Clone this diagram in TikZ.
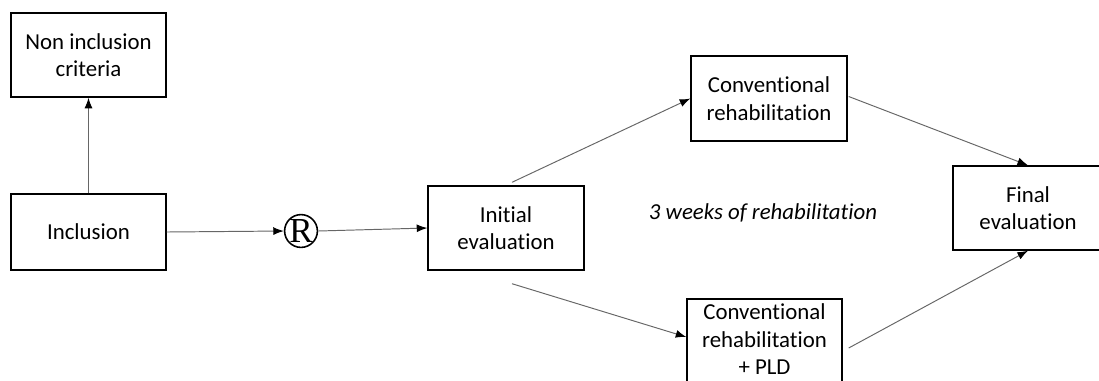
\documentclass[tikz,border=0pt]{standalone}
\usepackage{fontspec}
\setmainfont{Carlito}[Ligatures=NoCommon]
\newfontfamily\serifR{Liberation Serif}
\usepackage{tikz}
\usetikzlibrary{arrows.meta}

\begin{document}
\begin{tikzpicture}[x=0.02cm, y=-0.02cm,
    box/.style={draw, line width=0.8pt, align=center, font=\fontsize{13}{15.6}\selectfont, inner sep=0pt},
    arr/.style={-{Latex[length=6pt,width=4.5pt,color=black]}, draw=black!60, line width=0.55pt}]
    % Frame of the picture
    \clip (0,0) rectangle (1099,380);

    % Boxes
    \node[box, minimum width=155*0.02cm, minimum height=84*0.02cm] (noninc) at (88.5,55) {Non inclusion\\criteria};
    \node[box, minimum width=155*0.02cm, minimum height=76*0.02cm] (inclusion) at (88.5,232) {Inclusion};
    \node[draw, circle, line width=0.9pt, inner sep=0pt, minimum size=31*0.02cm, font=\serifR\fontsize{20}{20}\selectfont] (rand) at (301,231) {R};
    \node[box, minimum width=156*0.02cm, minimum height=84*0.02cm] (initial) at (506,228) {Initial\\evaluation};
    \node[box, minimum width=156*0.02cm, minimum height=85*0.02cm] (conv) at (769,98.5) {Conventional\\rehabilitation};
    \node[box, minimum width=155*0.02cm, minimum height=86*0.02cm, text depth=3.2pt] (convpld) at (764.5,342) {Conventional\\rehabilitation\\+ PLD};
    \node[box, minimum width=150*0.02cm, minimum height=84*0.02cm] (final) at (1028,208) {Final\\evaluation};

    % Label in the middle
    \node[font=\fontsize{13}{15.6}\selectfont\itshape] (weeks) at (763,213) {3 weeks of rehabilitation};

    % Arrows
    \draw[arr] (inclusion.north) -- (noninc.south);
    \draw[arr] (inclusion.east) -- (rand.west);
    \draw[arr] (rand.east) -- (initial.west);
    \draw[arr] ([shift={(6,-3)}]initial.north) -- (conv.west);
    \draw[arr] ([shift={(6,13)}]initial.south) -- ([yshift=5*0.02cm]convpld.west);
    \draw[arr] ([shift={(1,-2)}]conv.east) -- (final.north);
    \draw[arr] ([shift={(6,6)}]convpld.east) -- (final.south);
\end{tikzpicture}
\end{document}
